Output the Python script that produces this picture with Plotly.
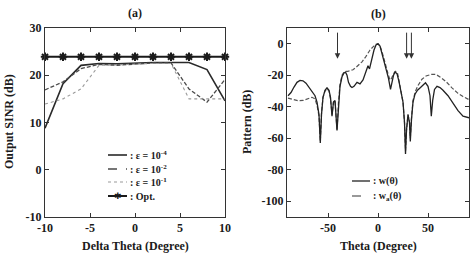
import plotly.graph_objects as go

# ---------------- data: panel (a) ----------------
delta_theta = [-10, -8, -6, -4, -2, 0, 2, 4, 6, 8, 10]
sinr_e4 = [8.8, 18.2, 22.1, 22.5, 22.4, 22.6, 22.7, 22.7, 22.7, 21.2, 14.6]
sinr_e2 = [16.9, 18.6, 21.4, 22.3, 22.1, 22.4, 22.6, 22.6, 17.1, 14.3, 19.1]
sinr_e1 = [13.9, 15.0, 17.1, 22.1, 22.2, 22.4, 22.5, 22.5, 15.0, 15.0, 15.0]
sinr_opt = [23.9, 23.9, 23.9, 23.9, 23.9, 23.9, 23.9, 23.9, 23.9, 23.9, 23.9]
xa_ticks = [-10, -5, 0, 5, 10]
xa_ticktext = ["-10", "-5", "0", "5", "10"]
ya_ticks = [-10, 0, 10, 20, 30]
ya_ticktext = ["-10", "0", "10", "20", "30"]
legend_a = [": ε = 10<sup>-4</sup>", ": ε = 10<sup>-2</sup>", ": ε = 10<sup>-1</sup>", ": Opt."]

# ---------------- data: panel (b) ----------------
theta_w = [-90, -87, -84, -81, -78, -75, -72, -69, -66, -63, -61, -59, -57.7, -56.5, -55,
           -53, -51, -49, -47.5, -46, -44.5, -43, -41, -39.5, -38, -36, -34, -32.5, -31,
           -29.5, -27.5, -26, -24, -21, -18, -15, -12.5, -10, -8.5, -6.5, -4, -2, 0, 2, 4,
           6, 7.5, 9, 10.5, 12.5, 14, 15.5, 17, 19, 21, 23, 25, 26.5, 27.5, 28.5, 30, 31.5,
           32.3, 33.5, 35, 37, 39.5, 42.5, 45, 47.5, 50, 52, 53.3, 54.7, 56.5, 59, 62, 65,
           70, 75, 80, 85, 91]
pat_w = [-33, -31, -27.5, -24.5, -23.3, -23.5, -25, -27.5, -30, -33, -37, -45, -63, -45, -34,
         -29.5, -28, -29.5, -34, -46, -37, -36, -55, -38, -27, -21, -18.5, -18, -20,
         -24.5, -27, -27.8, -27, -24.5, -25.5, -23, -19, -14, -16, -10.5, -4, -0.8, 0, -1.5, -6,
         -11.5, -15, -17, -22, -29, -24, -20, -18, -19, -24, -30, -37, -50, -70, -55, -45, -50,
         -62, -48, -37, -32, -29.5, -27.8, -26, -24.8, -27, -33, -46, -36, -29, -27, -27.8, -29.5,
         -33, -38, -42.5, -46, -47]
theta_wa = [-90, -85, -80, -75, -70, -66, -63, -61, -59, -57.7, -56.5, -55, -53, -51, -49,
            -47.5, -46, -44.5, -43, -41, -39.5, -38, -36, -34, -32, -30, -28, -25, -22, -19,
            -16, -12, -8, -5, -2, 0, 2, 4, 6, 8, 10, 12, 13.5, 15.5, 17.5, 19.5, 21, 23, 25,
            26.5, 27.5, 28.5, 30, 31.5, 32.3, 33.5, 35, 37.5, 40, 44, 48, 53, 58, 63, 68, 74,
            80, 85, 91]
pat_wa = [-34.5, -35.5, -36.2, -36, -35, -34, -35, -39, -46, -62, -44, -34, -30, -28.5, -30,
          -35, -45, -37, -36, -55, -37, -26, -20, -18, -17.5, -17.5, -17, -16.5, -15, -13.5,
          -11.5, -8, -4, -2, -0.4, 0, -1.5, -5, -10, -15, -19, -23, -22, -19, -17.5, -18.5, -23, -29, -37,
          -50, -68, -55, -45, -50, -60, -47, -36, -30, -26.5, -22.5, -20.5, -19.5, -19.5, -21.5, -24, -28,
          -31.5, -33.5, -35.5]
arrow_theta = [-40.5, 28.6, 33.4]
arrow_tip_db = -9.5
arrow_tail_db = 8
xb_ticks = [-50, 0, 50]
xb_ticktext = ["-50", "0", "50"]
yb_ticks = [0, -20, -40, -60, -80, -100]
yb_ticktext = ["0", "-20", "-40", "-60", "-80", "-100"]
legend_b = [": w(θ)", ": w<sub>a</sub>(θ)"]

W, H = 474, 259
FONT = "Liberation Serif"
INK = "#1a1a1a"


def px(x):
    return x / W


def py(y):
    return 1 - y / H


fig = go.Figure()

# panel (a)
fig.add_trace(go.Scatter(x=delta_theta, y=sinr_e4, mode="lines", xaxis="x", yaxis="y",
                         line=dict(color="#2a2a2a", width=1.6)))
fig.add_trace(go.Scatter(x=delta_theta, y=sinr_e2, mode="lines", xaxis="x", yaxis="y",
                         line=dict(color="#4a4a4a", width=1.3, dash="4px,2px")))
fig.add_trace(go.Scatter(x=delta_theta, y=sinr_e1, mode="lines", xaxis="x", yaxis="y",
                         line=dict(color="#9a9a9a", width=1.1, dash="dot")))
fig.add_trace(go.Scatter(x=delta_theta, y=sinr_opt, mode="lines+markers", xaxis="x", yaxis="y",
                         cliponaxis=False,
                         line=dict(color=INK, width=2),
                         marker=dict(symbol="asterisk-open", size=7,
                                     line=dict(color=INK, width=2))))

# panel (b)
fig.add_trace(go.Scatter(x=theta_wa, y=pat_wa, mode="lines", xaxis="x2", yaxis="y2",
                         line=dict(color="#555555", width=1.2, dash="4px,2px")))
fig.add_trace(go.Scatter(x=theta_w, y=pat_w, mode="lines", xaxis="x2", yaxis="y2",
                         line=dict(color="#222222", width=1.3)))

axis_common = dict(showgrid=False, zeroline=False, showline=True, linecolor="#333",
                   linewidth=1, mirror="ticks", ticks="inside", ticklen=4, tickwidth=1,
                   tickcolor="#333", automargin=False,
                   tickfont=dict(family=FONT, size=12, color=INK, weight="bold"))

ydom = [py(217), py(28)]
fig.update_layout(
    width=W, height=H, margin=dict(l=0, r=0, t=0, b=0, autoexpand=False),
    paper_bgcolor="white", plot_bgcolor="white", showlegend=False,
    xaxis=dict(domain=[px(45), px(225)], range=[-10, 10], tickvals=xa_ticks,
               ticktext=xa_ticktext, anchor="y", **axis_common),
    yaxis=dict(domain=ydom, range=[-10, 30], tickvals=ya_ticks, ticktext=ya_ticktext,
               anchor="x", **axis_common),
    xaxis2=dict(domain=[px(287), px(469)], range=[-91, 91], tickvals=xb_ticks,
                ticktext=xb_ticktext, anchor="y2", **axis_common),
    yaxis2=dict(domain=ydom, range=[-110, 10], tickvals=yb_ticks, ticktext=yb_ticktext,
                anchor="x2", **axis_common),
)

ann = []
shapes = []
tfont = dict(family=FONT, size=12, color=INK, weight="bold")


def label(text, x, y, font, **kw):
    d = dict(text=text, x=px(x), y=py(y), xref="paper", yref="paper", showarrow=False,
             xanchor="center", yanchor="middle", font=font)
    d.update(kw)
    ann.append(d)


# panel titles
label("(a)", 135, 13, tfont)
label("(b)", 378, 14, tfont)
# axis titles
label("Delta Theta (Degree)", 135, 246, tfont)
label("Theta (Degree)", 378, 246, tfont)
label("Output SINR (dB)", 9, 122, tfont, textangle=-90)
label("Pattern (dB)", 247, 122, tfont, textangle=-90)

# arrows in panel (b)
for th in arrow_theta:
    ann.append(dict(x=th, y=arrow_tip_db, ax=th, ay=arrow_tail_db, xref="x2", yref="y2",
                    axref="x2", ayref="y2", text="", showarrow=True, arrowhead=2,
                    arrowsize=1.1, arrowwidth=1, arrowcolor="#333"))

# legend (a), drawn manually
lfont = dict(family=FONT, size=10, color=INK, weight="bold")
rows_a = [155, 169, 182, 196]
styles_a = [dict(color="#2a2a2a", width=1.6, dash="solid"),
            dict(color="#4a4a4a", width=1.3, dash="dash"),
            dict(color="#9a9a9a", width=1.1, dash="dot"),
            dict(color=INK, width=2, dash="solid")]
for r, lab, st in zip(rows_a, legend_a, styles_a):
    shapes.append(dict(type="line", xref="paper", yref="paper", x0=px(108), x1=px(127),
                       y0=py(r), y1=py(r), line=st))
    label(lab, 128, r, lfont, xanchor="left")
label("✱", 117.5, 196, dict(family="DejaVu Sans", size=9, color=INK))

# legend (b)
rows_b = [181, 196]
styles_b = [dict(color="#222222", width=1.3, dash="solid"),
            dict(color="#555555", width=1.2, dash="dash")]
for r, lab, st in zip(rows_b, legend_b, styles_b):
    shapes.append(dict(type="line", xref="paper", yref="paper", x0=px(352), x1=px(370),
                       y0=py(r), y1=py(r), line=st))
    label(lab, 371, r, lfont, xanchor="left")

fig.update_layout(annotations=ann, shapes=shapes)
fig.write_html("out.html")
